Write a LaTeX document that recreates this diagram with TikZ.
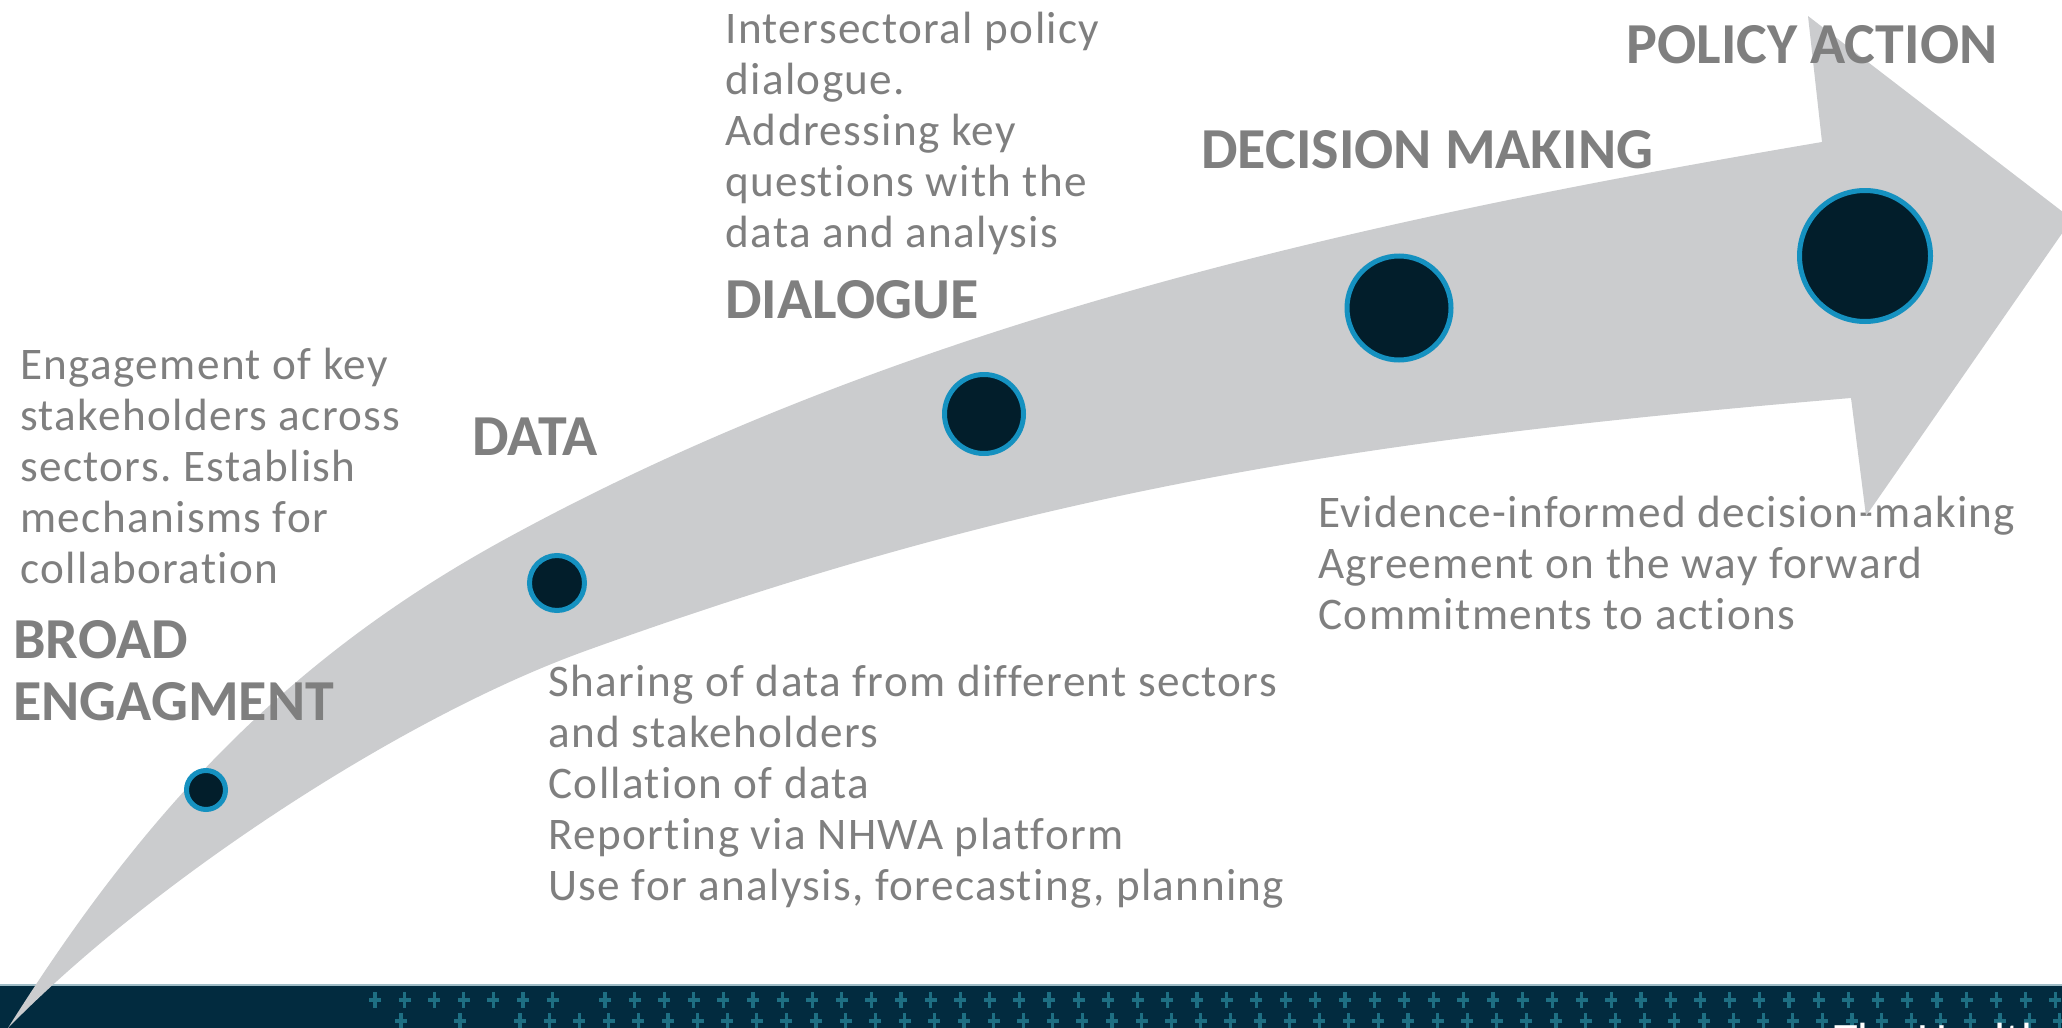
\documentclass[tikz,border=0pt]{standalone}
\usepackage{fontspec}
\setmainfont[Ligatures=NoCommon]{Carlito}
\newfontfamily\notefont[LetterSpace=3,Ligatures=NoCommon]{Carlito}
\usepackage{xcolor}
\frenchspacing

\definecolor{arrowgrey}{HTML}{CBCCCE}
\definecolor{labelgrey}{HTML}{7F7F7F}
\definecolor{dotnavy}{HTML}{021E2B}
\definecolor{dotring}{HTML}{1591C0}
\definecolor{bandnavy}{HTML}{022B3F}
\definecolor{bandline}{HTML}{9FBCC6}
\definecolor{bandcross}{HTML}{1E6F83}

\begin{document}
\begin{tikzpicture}[x=0.5pt,y=-0.5pt,
  stage/.style={font=\fontsize{29}{31}\selectfont\bfseries,text=labelgrey,
    anchor=base west,inner sep=0pt,align=left},
  notes/.style={font=\notefont\fontsize{22.6}{25.5}\selectfont,text=labelgrey,
    anchor=base west,inner sep=0pt,align=left},
  stagedot/.style={circle,fill=dotnavy,draw=dotring,line width=2.5pt,inner sep=0pt},
  cross/.style={bandcross,line width=1.6pt}]
  \useasboundingbox (0,0) rectangle (2062,1028);
  \clip (0,0) rectangle (2062,1028);

  % Footer band
  \fill[bandnavy] (0,985) rectangle (2062,1028);
  \draw[bandline,line width=1pt] (0,985) -- (2062,985);
  \foreach \x in {375,404.6,...,560,605,634.6,...,2062}
    \draw[cross] (\x,992) -- (\x,1008) (\x-6,1000) -- (\x+6,1000);
  \foreach \x in {401,460,520,549.6,...,2062}
    \draw[cross] (\x,1013) -- (\x,1029) (\x-6,1021) -- (\x+6,1021);
  \node[font=\fontsize{24}{28}\selectfont,text=white,anchor=base west,inner sep=0pt]
    (footer) at (1834,1056) {The Health};

  % Text under the arrow head (last line is the base)
  \node[notes] (decisiontext) at (1318,629)
    {Evidence-informed decision-making\\Agreement on the way forward\\Commitments to actions};

  % Arrow: upper edge, head, lower edge back to the tail
  \fill[arrowgrey] (8,1028)
    .. controls (146,808) and (290,658) .. (500,542)
    .. controls (903,320) and (1368,219) .. (1822,142)
    -- (1808,16) -- (2072,219) -- (1866,516) -- (1851,398)
    .. controls (1351,440) and (1030,491) .. (588,650)
    .. controls (398,718) and (148,885) .. (8,1028)
    -- cycle;

  % Stages along the arrow
  \node[stagedot,minimum size=19.5pt] (dotbroad) at (206,790) {};
  \node[stagedot,minimum size=27.5pt] (dotdata) at (557,583) {};
  \node[stagedot,minimum size=39.5pt] (dotdialogue) at (984,414) {};
  \node[stagedot,minimum size=52pt] (dotdecision) at (1399,308) {};
  \node[stagedot,minimum size=65.5pt] (dotpolicy) at (1865,256) {};

  % Titles
  \node[stage] (broad) at (13,720) {BROAD\\ENGAGMENT};
  \node[stage] (data) at (472,455) {DATA};
  \node[stage] (dialogue) at (725,318) {DIALOGUE};
  \node[stage] (decision) at (1201,168) {DECISION MAKING};
  \node[stage] (policy) at (1626,63) {POLICY ACTION};

  % Notes (last line is the base)
  \node[notes] (broadtext) at (20,583)
    {Engagement of key\\stakeholders across\\sectors. Establish\\mechanisms for\\collaboration};
  \node[notes] (datatext) at (548,900)
    {Sharing of data from different sectors\\and stakeholders\\Collation of data\\Reporting via NHWA platform\\Use for analysis, forecasting, planning};
  \node[notes] (dialoguetext) at (725,247)
    {Intersectoral policy\\dialogue.\\Addressing key\\questions with the\\data and analysis};
\end{tikzpicture}
\end{document}
